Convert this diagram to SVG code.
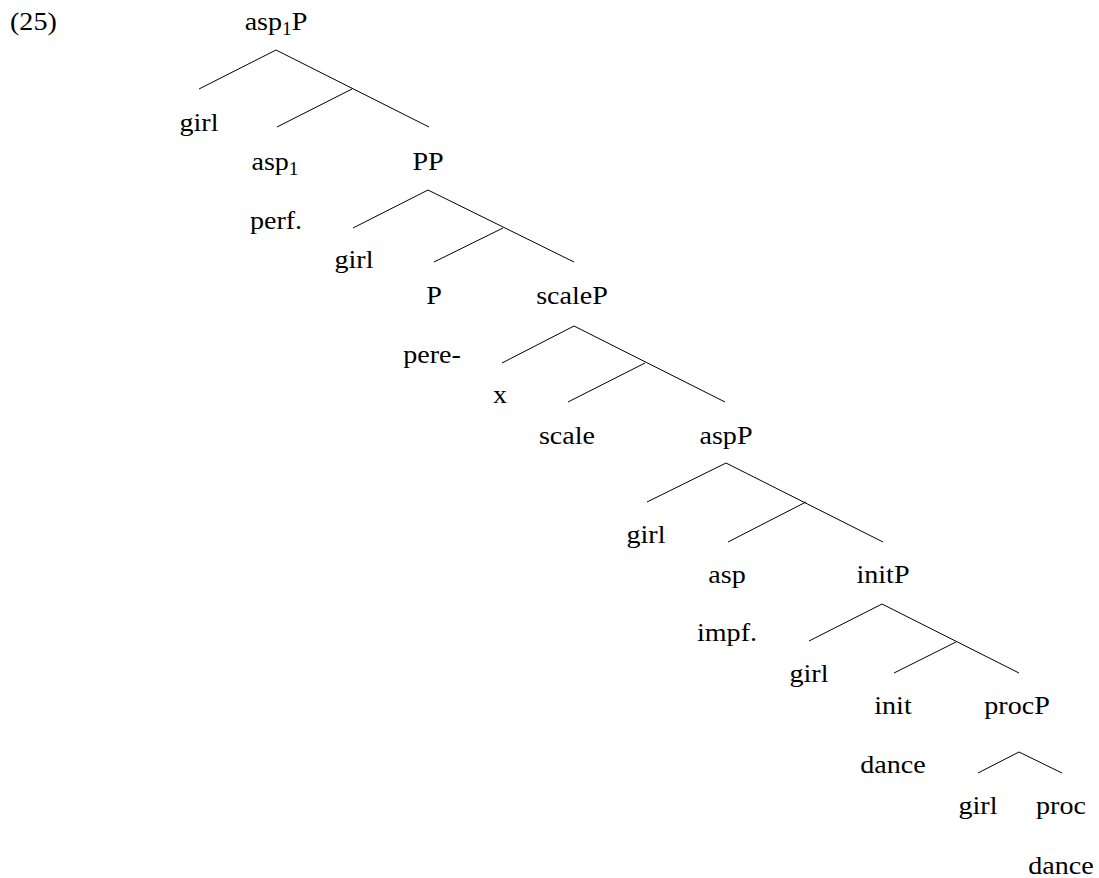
<svg xmlns="http://www.w3.org/2000/svg" width="1099" height="878" viewBox="0 0 1099 878">
  <style>
    .lbl { font-family: "Liberation Serif", "Times New Roman", serif; font-size: 26px; fill: #000; text-anchor: middle; }
    .num { text-anchor: start; }
    .sub { font-size: 18px; }
    .edge { stroke: #000; stroke-width: 1; fill: none; stroke-linecap: butt; }
  </style>
  <rect width="1099" height="878" fill="#fff"/>

  <!-- tree branches -->
  <g id="connectors" class="edge">
    <!-- asp1P -->
    <path d="M199 89 L276 50 L429 127 M352 89 L277 127"/>
    <!-- PP -->
    <path d="M353 228 L428 190 L574 262 M503 228 L434 262"/>
    <!-- scaleP -->
    <path d="M502 363 L574 326 L725 402 M645 363 L568 402"/>
    <!-- aspP -->
    <path d="M647 502 L726 463 L883 542 M806 502 L728 542"/>
    <!-- initP -->
    <path d="M809 641 L882 604 L1019 673 M956 642 L894 673"/>
    <!-- procP -->
    <path d="M978 773 L1019 752 L1062 773"/>
  </g>

  <g id="example-number"><text class="lbl num" transform="translate(10 30) scale(1.08 1)">(25)</text></g>

  <g id="asp1P"><text class="lbl" transform="translate(276 30) scale(1.08 1)">asp<tspan class="sub" dy="5">1</tspan><tspan dy="-5">P</tspan></text></g>
  <g id="girl-1"><text class="lbl" transform="translate(199 131) scale(1.08 1)">girl</text></g>
  <g id="asp1"><text class="lbl" transform="translate(275 170) scale(1.08 1)">asp<tspan class="sub" dy="5">1</tspan></text></g>
  <g id="perf"><text class="lbl" transform="translate(276 229) scale(1.08 1)">perf.</text></g>

  <g id="PP"><text class="lbl" transform="translate(428 170) scale(1.08 1)">PP</text></g>
  <g id="girl-2"><text class="lbl" transform="translate(354 268) scale(1.08 1)">girl</text></g>
  <g id="P"><text class="lbl" transform="translate(434 304) scale(1.08 1)">P</text></g>
  <g id="pere"><text class="lbl" transform="translate(432 363) scale(1.08 1)">pere-</text></g>

  <g id="scaleP"><text class="lbl" transform="translate(572 304) scale(1.08 1)">scaleP</text></g>
  <g id="x"><text class="lbl" transform="translate(500 403) scale(1.08 1)">x</text></g>
  <g id="scale"><text class="lbl" transform="translate(567 444) scale(1.08 1)">scale</text></g>

  <g id="aspP"><text class="lbl" transform="translate(726 444) scale(1.08 1)">aspP</text></g>
  <g id="girl-3"><text class="lbl" transform="translate(646 543) scale(1.08 1)">girl</text></g>
  <g id="asp"><text class="lbl" transform="translate(727 583) scale(1.08 1)">asp</text></g>
  <g id="impf"><text class="lbl" transform="translate(727 641) scale(1.08 1)">impf.</text></g>

  <g id="initP"><text class="lbl" transform="translate(883 583) scale(1.08 1)">initP</text></g>
  <g id="girl-4"><text class="lbl" transform="translate(809 682) scale(1.08 1)">girl</text></g>
  <g id="init"><text class="lbl" transform="translate(893 714) scale(1.08 1)">init</text></g>
  <g id="dance-1"><text class="lbl" transform="translate(893 773) scale(1.08 1)">dance</text></g>

  <g id="procP"><text class="lbl" transform="translate(1017 714) scale(1.08 1)">procP</text></g>
  <g id="girl-5"><text class="lbl" transform="translate(978 814) scale(1.08 1)">girl</text></g>
  <g id="proc"><text class="lbl" transform="translate(1061 814) scale(1.08 1)">proc</text></g>
  <g id="dance-2"><text class="lbl" transform="translate(1061 874) scale(1.08 1)">dance</text></g>
</svg>
